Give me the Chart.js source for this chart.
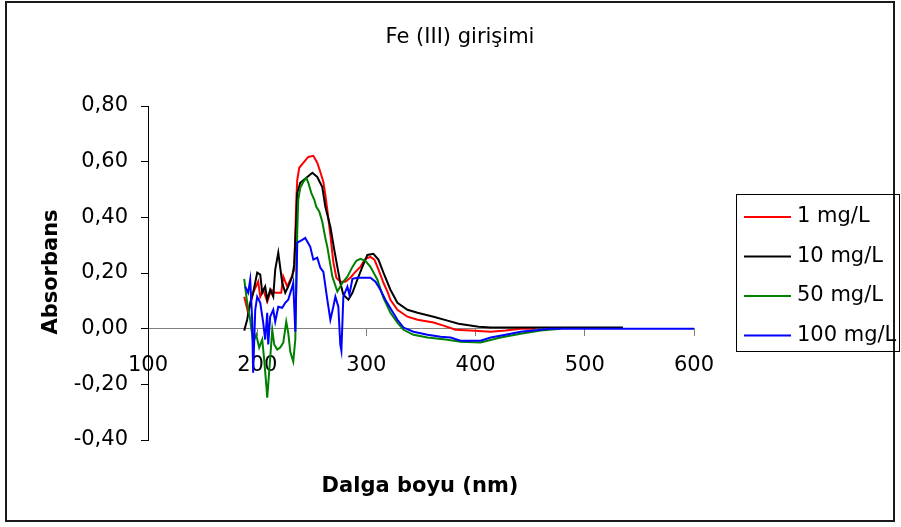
<!DOCTYPE html>
<html>
<head>
<meta charset="utf-8">
<title>Fe (III) girişimi</title>
<script src="https://cdn.jsdelivr.net/npm/chart.js@4.4.0/dist/chart.umd.min.js"></script>
<style>
  body { margin: 0; background: #fff; }
  #wrap { width: 901px; height: 527px; position: relative; }
</style>
</head>
<body>
<div id="wrap"><canvas id="theChart"></canvas></div>
<script>
var chartTitle = "Fe (III) girişimi";
var xTitle = "Dalga boyu (nm)";
var yTitle = "Absorbans";

var seriesNames = ["1 mg/L", "10 mg/L", "50 mg/L", "100 mg/L"];
var seriesColors = ["#FF0000", "#000000", "#008000", "#0000FF"];

var xTickValues = [100, 200, 300, 400, 500, 600];
var yTickValues = [-0.4, -0.2, 0, 0.2, 0.4, 0.6, 0.8];

// 1 mg/L
var nm1 = [188.1,191.7,196.3,200.9,202.8,205.5,209.2,212.8,216.5,222.0,223.9,227.5,231.2,233.9,235.8,236.7,238.5,242.2,246.8,251.4,255.0,257.8,260.6,262.4,264.2,267.0,269.7,272.5,276.1,280.7,285.3,289.9,294.5,299.1,303.7,307.3,310.1,312.8,315.6,319.3,322.0,328.4,337.6,346.8,361.5,370.6,381.7,395.4,413.8,427.5,441.3,455.0];
var abs1 = [0.115,0.057,0.129,0.169,0.115,0.140,0.097,0.140,0.129,0.129,0.187,0.151,0.183,0.212,0.463,0.535,0.578,0.596,0.617,0.621,0.596,0.563,0.527,0.481,0.427,0.337,0.240,0.183,0.169,0.169,0.183,0.204,0.222,0.251,0.258,0.248,0.222,0.194,0.165,0.133,0.104,0.068,0.043,0.032,0.022,0.011,-0.004,-0.007,-0.011,-0.007,0,0];

// 10 mg/L
var nm2 = [188.1,190.8,193.6,196.3,200.0,202.8,204.6,207.3,209.2,211.9,214.7,216.5,219.3,222.9,225.7,228.4,232.1,233.9,235.8,236.7,239.4,245.9,250.5,255.0,259.6,262.4,267.0,270.6,273.4,276.1,278.9,283.5,287.2,291.7,296.3,300.9,306.4,311.0,315.6,322.0,328.4,337.6,346.8,361.5,374.3,384.4,402.8,413.8,534.9];
var abs2 = [-0.007,0.032,0.093,0.129,0.201,0.194,0.129,0.151,0.104,0.140,0.115,0.212,0.273,0.165,0.129,0.151,0.187,0.230,0.391,0.488,0.524,0.545,0.560,0.545,0.509,0.438,0.366,0.283,0.222,0.165,0.122,0.104,0.129,0.176,0.222,0.265,0.269,0.248,0.201,0.140,0.093,0.068,0.057,0.043,0.029,0.018,0.007,0.004,0.004];

// 50 mg/L
var nm3 = [188.1,190.8,193.6,196.3,199.1,201.8,204.6,206.4,208.3,209.2,211.0,213.8,215.6,218.3,221.1,223.9,226.6,228.4,230.3,233.0,234.9,235.8,236.7,237.6,239.4,242.2,245.0,246.8,249.5,252.3,254.1,256.9,259.6,262.4,264.2,268.8,273.4,278.0,282.6,287.2,290.8,294.5,299.1,303.7,310.1,315.6,322.0,328.4,334.0,343.1,356.0,372.5,386.2,404.6,422.9,441.3,459.6,478.0];
var abs3 = [0.179,0.093,0.032,-0.050,-0.022,-0.068,-0.039,-0.111,-0.201,-0.248,-0.154,-0.004,-0.057,-0.075,-0.068,-0.050,0.025,-0.014,-0.083,-0.118,-0.039,0.176,0.355,0.463,0.506,0.527,0.542,0.524,0.488,0.463,0.438,0.420,0.384,0.326,0.294,0.187,0.133,0.165,0.187,0.222,0.244,0.251,0.244,0.222,0.176,0.111,0.057,0.022,-0.004,-0.022,-0.032,-0.039,-0.047,-0.050,-0.032,-0.018,-0.007,0];

// 100 mg/L
var nm4 = [189.0,191.7,193.6,195.4,196.3,198.2,200.0,202.8,205.5,207.3,209.2,210.1,211.9,214.7,216.5,219.3,222.9,225.7,228.4,232.1,233.0,234.9,236.7,241.3,244.0,248.6,251.4,255.0,257.8,260.6,264.2,267.0,269.7,271.6,274.3,276.1,277.1,278.9,282.6,284.4,287.2,291.7,303.7,308.3,312.8,317.4,323.9,328.4,334.0,343.1,356.0,367.9,377.1,386.2,404.6,413.8,427.5,441.3,459.6,468.8,600];
var abs4 = [0.151,0.129,0.176,0.032,-0.158,0.068,0.115,0.093,0.022,-0.039,0.057,-0.057,0.043,0.068,0.025,0.079,0.075,0.093,0.104,0.151,0.165,-0.011,0.309,0.319,0.326,0.294,0.248,0.255,0.219,0.204,0.104,0.032,0.079,0.115,0.079,-0.057,-0.079,0.115,0.151,0.122,0.179,0.183,0.183,0.169,0.140,0.104,0.061,0.032,0.004,-0.011,-0.022,-0.029,-0.032,-0.043,-0.043,-0.032,-0.022,-0.011,-0.004,0,0];

var allX = [nm1, nm2, nm3, nm4];
var allY = [abs1, abs2, abs3, abs4];

var FONT = '"DejaVu Sans", Arial, sans-serif';
Chart.defaults.font.family = FONT;
Chart.defaults.font.size = 21;
Chart.defaults.color = "#000";

function toPoints(xs, ys) {
    return xs.map(function(x, i) { return { x: x, y: ys[i] }; });
}

function commaNum(v) {
    if (Math.abs(v) < 1e-9) v = 0;
    return v.toFixed(2).replace(".", ",");
}

var datasets = seriesNames.map(function(name, i) {
    return {
        label: name,
        data: toPoints(allX[i], allY[i]),
        borderColor: seriesColors[i],
        backgroundColor: seriesColors[i],
        borderWidth: 2,
        showLine: true,
        pointRadius: 0,
        tension: 0,
        order: seriesNames.length - i   // excel draws later series on top
    };
});

// title, axis titles, legend box and the outer frame
var decor = {
    id: "decor",
    beforeDraw: function(chart) {
        var c = chart.ctx;
        c.save();
        c.fillStyle = "#fff";
        c.fillRect(0, 0, chart.width, chart.height);
        c.restore();
    },
    afterDraw: function(chart) {
        var c = chart.ctx;
        c.save();
        c.strokeStyle = "#1a1a1a";
        c.lineWidth = 2;
        c.strokeRect(6, 2, 888, 519);

        c.fillStyle = "#000";
        c.textAlign = "center";
        c.textBaseline = "alphabetic";
        c.font = "21px " + FONT;
        c.fillText(chartTitle, 460, 43);

        c.font = "bold 21px " + FONT;
        c.fillText(xTitle, 420, 492);

        c.save();
        c.translate(57, 272);
        c.rotate(-Math.PI / 2);
        c.fillText(yTitle, 0, 0);
        c.restore();

        // legend
        c.lineWidth = 1;
        c.strokeStyle = "#000";
        c.strokeRect(736.5, 194.5, 163, 157);
        c.font = "21px " + FONT;
        c.textAlign = "left";
        c.textBaseline = "middle";
        chart.data.datasets.forEach(function(ds, i) {
            var y = 217 + i * 39.5;
            c.strokeStyle = ds.borderColor;
            c.lineWidth = 2;
            c.beginPath();
            c.moveTo(744, y);
            c.lineTo(791, y);
            c.stroke();
            c.fillText(ds.label, 797, y);
        });
        c.restore();
    }
};

var ctx = document.getElementById("theChart").getContext("2d");

var theChart = new Chart(ctx, {
    type: "scatter",
    data: { datasets: datasets },
    options: {
        responsive: true,
        maintainAspectRatio: false,
        animation: false,
        devicePixelRatio: 1,
        layout: { padding: { left: 0, top: 106, right: 207, bottom: 87 } },
        plugins: {
            legend: { display: false },
            title: { display: false },
            tooltip: { enabled: false }
        },
        scales: {
            x: {
                type: "linear",
                position: { y: 0 },
                min: 100,
                max: 600,
                afterBuildTicks: function(scale) {
                    scale.ticks = xTickValues.map(function(v) { return { value: v }; });
                },
                ticks: {
                    autoSkip: false,
                    maxRotation: 0,
                    padding: 17,
                    callback: function(v) { return String(v); }
                },
                grid: { drawOnChartArea: false, drawTicks: true, tickLength: 7, color: "#808080" },
                border: { display: true, color: "#808080", width: 1 }
            },
            y: {
                type: "linear",
                position: "left",
                min: -0.4,
                max: 0.8,
                afterBuildTicks: function(scale) {
                    scale.ticks = yTickValues.map(function(v) { return { value: v }; });
                },
                afterFit: function(scale) { scale.width = 148; },
                ticks: {
                    autoSkip: false,
                    padding: 13,
                    callback: function(v) { return commaNum(v); }
                },
                grid: { drawOnChartArea: false, drawTicks: true, tickLength: 7, color: "#000" },
                border: { display: true, color: "#000", width: 1 }
            }
        }
    },
    plugins: [decor]
});
</script>
</body>
</html>
